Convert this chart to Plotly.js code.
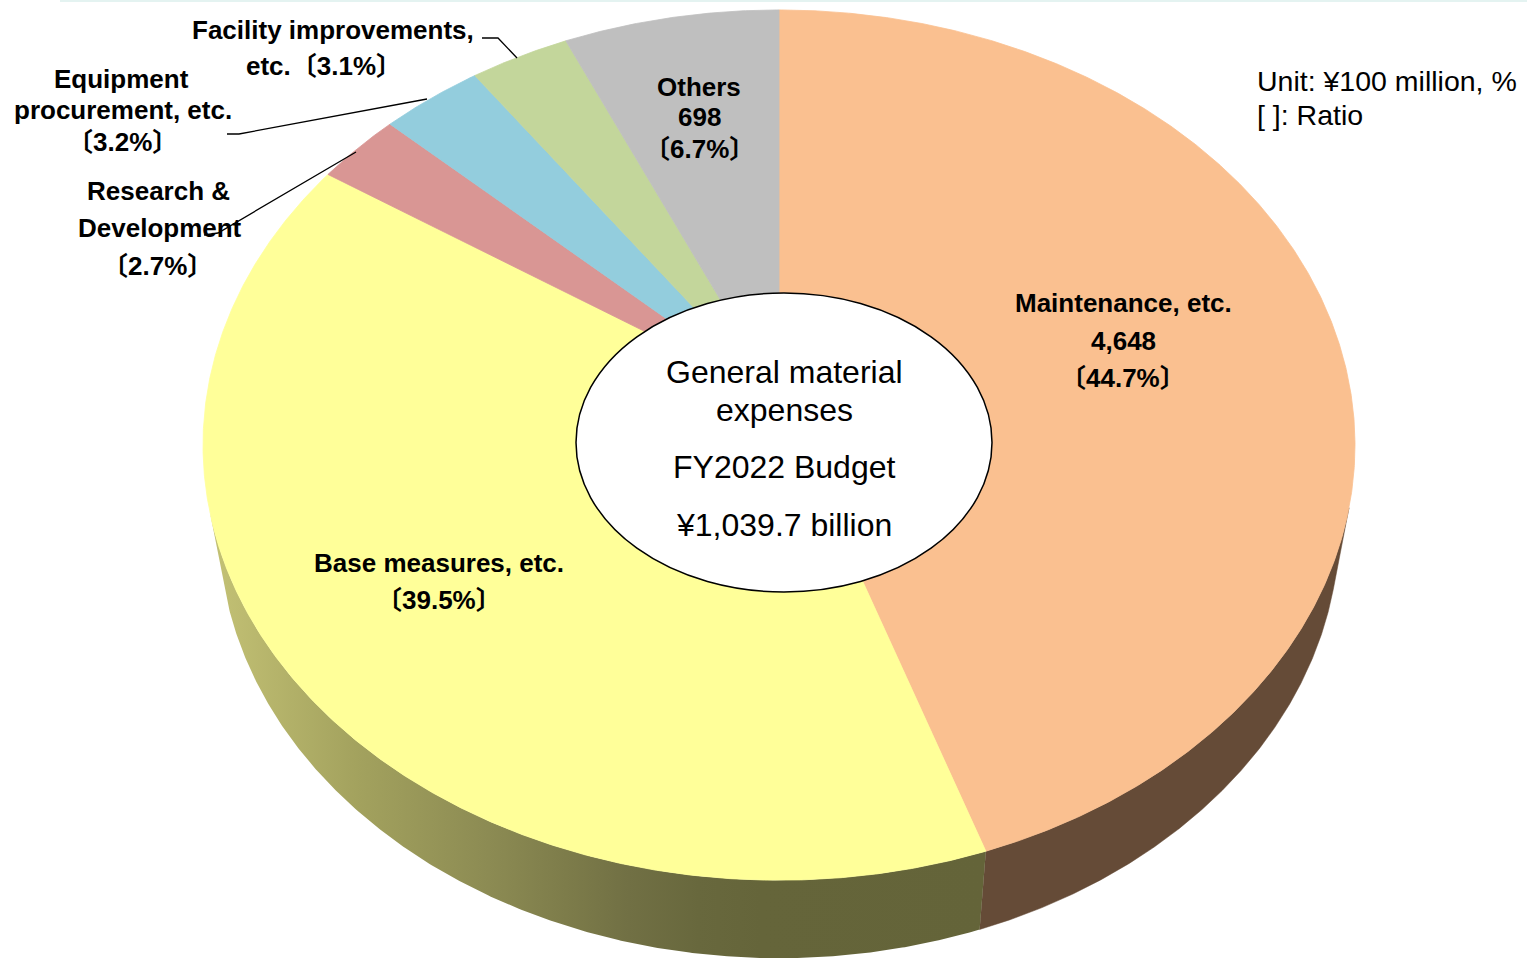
<!DOCTYPE html>
<html>
<head>
<meta charset="utf-8">
<script src="https://cdn.plot.ly/plotly-3.0.1.min.js"></script>
<style>html,body{margin:0;padding:0;background:#fff;}#chart{width:1527px;height:960px;}</style>
</head>
<body>
<div id="chart"></div>
<script>
// ---- data (Unit: ¥100 million, %) ----
const categories = ['Maintenance, etc.', 'Base measures, etc.', 'Research & Development', 'Equipment procurement, etc.', 'Facility improvements, etc.', 'Others'];
const shares = [44.7, 39.5, 2.7, 3.2, 3.1, 6.7];
const amountLabels = ['4,648', '', '', '', '', '698'];
const shareLabels = ['〔44.7%〕', '〔39.5%〕', '〔2.7%〕', '〔3.2%〕', '〔3.1%〕', '〔6.7%〕'];
const totalLabel = '¥1,039.7 billion';
const fiscalYear = 'FY2022 Budget';

// ---- styles ----
const topColors = ['#FAC090', '#FFFF99', '#D99694', '#93CDDD', '#C3D69B', '#BFBFBF'];
const wallColors = ['#654B37', null, '#8a5a58', '#5a7f89', '#7a8660', '#777777'];
const baseWallScale = [[0, '#C4C275'], [0.19, '#A3A25E'], [0.36, '#8C8B53'], [0.46, '#7D7C4A'], [0.54, '#717044'], [0.63, '#68683D'], [0.71, '#65653A'], [1, '#646439']];
const FONT = 'Liberation Sans, Arial, Noto Sans CJK JP, sans-serif';

// ---- 3D pie projection (perspective, geometry only) ----
const CX = 779, CY = 398, FP = 3493, RC = 6.1, SA = 0.751, CA = 0.660, DEPTH = 0.225;
function proj(t, yw) {
  const X = Math.sin(t), Z = Math.cos(t);
  const d = RC - yw * SA + Z * CA;
  return [CX + FP * X / d, CY - FP * (yw * CA + Z * SA) / d];
}
const sum = shares.reduce((a, b) => a + b, 0);
const bounds = [];
let acc = 0;
shares.forEach(v => { const a = acc; acc += v / sum * 2 * Math.PI; bounds.push([a, acc]); });

function arc(a, b, yw) {
  const pts = [];
  const n = Math.max(2, Math.ceil(Math.abs(b - a) / (0.25 * Math.PI / 180)));
  for (let i = 0; i <= n; i++) pts.push(proj(a + (b - a) * i / n, yw));
  return pts;
}

const traces = [];
// side walls (front-facing part)
const ts = Math.acos(-1 / (RC * CA));
bounds.forEach(([a, b], i) => {
  const lo = Math.max(a, ts), hi = Math.min(b, 2 * Math.PI - ts);
  if (hi <= lo) return;
  const pts = arc(lo, hi, 0).concat(arc(hi, lo, -DEPTH));
  pts.push(pts[0]);
  const tr = {
    type: 'scatter', mode: 'lines', x: pts.map(p => p[0]), y: pts.map(p => p[1]),
    fill: 'toself', line: {width: 0.5, color: wallColors[i] || '#646439'}, hoverinfo: 'skip', showlegend: false
  };
  if (i === 1) { tr.fillgradient = {type: 'horizontal', colorscale: baseWallScale}; tr.line.color = 'rgba(0,0,0,0)'; }
  else tr.fillcolor = wallColors[i];
  traces.push(tr);
});
// top faces
bounds.forEach(([a, b], i) => {
  const pts = [[CX, CY]].concat(arc(a, b, 0));
  pts.push([CX, CY]);
  traces.push({
    type: 'scatter', mode: 'lines', x: pts.map(p => p[0]), y: pts.map(p => p[1]),
    fill: 'toself', fillcolor: topColors[i], line: {width: 0.8, color: topColors[i]},
    name: categories[i], hoverinfo: 'skip', showlegend: false
  });
});

function ann(text, x, y, opts) {
  return Object.assign({text: text, x: x, y: y, xref: 'x', yref: 'y', showarrow: false,
    xanchor: 'center', yanchor: 'middle', font: {family: FONT, size: 26, color: '#000'}}, opts || {});
}
const B = (s) => '<b>' + s + '</b>';
const CF = {family: FONT, size: 32, color: '#000'};
const UF = {family: FONT, size: 28.5, color: '#000'};
const annotations = [
  ann(B('Maintenance, etc.'), 1123, 303),
  ann(B(amountLabels[0]), 1123, 341),
  ann(B(shareLabels[0]), 1123, 378),
  ann(B('Base measures, etc.'), 439, 563),
  ann(B(shareLabels[1]), 439, 600),
  ann(B('Others'), 699, 87),
  ann(B(amountLabels[5]), 699, 117),
  ann(B(shareLabels[5]), 699, 149),
  ann(B('Facility improvements,'), 333, 30),
  ann(B('etc.' + shareLabels[4]), 324, 66),
  ann(B('Equipment'), 121, 79),
  ann(B('procurement, etc.'), 123, 110),
  ann(B(shareLabels[3]), 122, 142),
  ann(B('Research &amp;'), 158, 191),
  ann(B('Development'), 160, 228),
  ann(B(shareLabels[2]), 157, 266),
  ann('General material', 784, 372, {font: CF}),
  ann('expenses', 784, 410, {font: CF}),
  ann(fiscalYear, 784, 467, {font: CF}),
  ann(totalLabel, 784, 525, {font: CF}),
  ann('Unit: ¥100 million, %', 1255, 81, {xanchor: 'left', font: UF}),
  ann('[ ]: Ratio', 1255, 115, {xanchor: 'left', font: UF})
];

const shapes = [
  {type: 'line', xref: 'x', yref: 'y', x0: 60, x1: 1527, y0: 1, y1: 1, line: {color: '#e4f3f1', width: 2}, layer: 'below'},
  {type: 'circle', xref: 'x', yref: 'y', x0: 576, x1: 992, y0: 293, y1: 592, fillcolor: '#ffffff', line: {color: '#000', width: 1.5}, layer: 'above'},
  {type: 'path', xref: 'x', yref: 'y', path: 'M 482 38 L 498 38 L 517 58', line: {color: '#000', width: 1.3}, layer: 'above'},
  {type: 'path', xref: 'x', yref: 'y', path: 'M 227 134 L 239 134 L 427 99', line: {color: '#000', width: 1.3}, layer: 'above'},
  {type: 'path', xref: 'x', yref: 'y', path: 'M 204 235 L 218 233 L 356 152', line: {color: '#000', width: 1.3}, layer: 'above'}
];

const layout = {
  width: 1527, height: 960,
  margin: {l: 0, r: 0, t: 0, b: 0, pad: 0},
  paper_bgcolor: '#fff', plot_bgcolor: '#fff',
  showlegend: false, hovermode: false,
  xaxis: {range: [0, 1527], visible: false, fixedrange: true},
  yaxis: {range: [960, 0], visible: false, fixedrange: true},
  annotations: annotations, shapes: shapes
};
Plotly.newPlot('chart', traces, layout, {displayModeBar: false, staticPlot: true});
</script>
</body>
</html>
